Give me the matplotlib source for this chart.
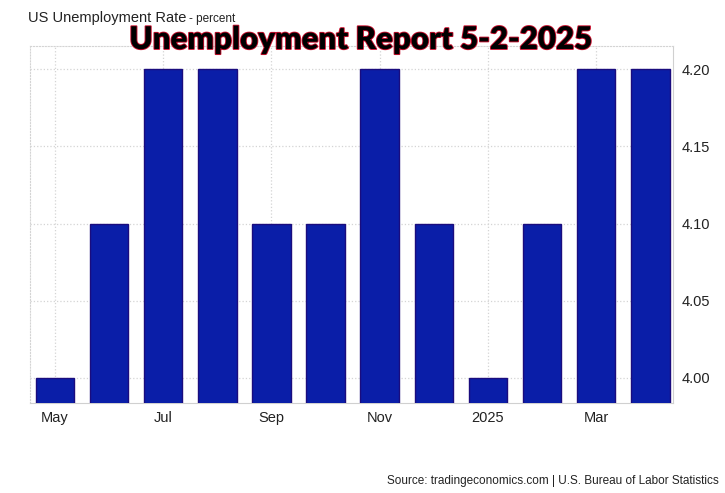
"""
US unemployment rate, monthly bars May 2024 - Apr 2025
"""
import matplotlib
matplotlib.use("Agg")
import matplotlib.pyplot as plt
import matplotlib.patheffects as pe

months = ["May", "Jun", "Jul", "Aug", "Sep", "Oct", "Nov", "Dec", "Jan", "Feb", "Mar", "Apr"]
rates = [4.0, 4.1, 4.2, 4.2, 4.1, 4.1, 4.2, 4.1, 4.0, 4.1, 4.2, 4.2]
tick_pos = [0, 2, 4, 6, 8, 10]
tick_labels = ["May", "Jul", "Sep", "Nov", "2025", "Mar"]
y_ticks = [4.00, 4.05, 4.10, 4.15, 4.20]

plt.rcParams["font.family"] = ["Liberation Sans", "DejaVu Sans"]

fig = plt.figure(figsize=(7.25, 4.93), dpi=100)
ax = fig.add_axes([0.0414, 0.1826, 0.887, 0.724])

x = range(len(months))
ax.bar(x, rates, width=0.71, bottom=0, color="#0a1ea8", edgecolor="#1a0c7e", linewidth=1.0, zorder=3)

ax.set_xlim(-0.46, 11.42)
ax.set_ylim(3.9838, 4.2149)

ax.set_xticks(tick_pos)
ax.set_xticklabels(tick_labels)
ax.set_yticks(y_ticks)
ax.set_yticklabels(["%.2f" % v for v in y_ticks])
ax.yaxis.tick_right()
ax.tick_params(axis="both", length=0, labelsize=10.5, labelcolor="#222222")
ax.tick_params(axis="y", pad=6)
ax.tick_params(axis="x", pad=6)

ax.grid(True, color="#d4d4d4", linestyle=":", linewidth=0.9, zorder=0)
for side in ["top", "left"]:
    ax.spines[side].set_color("#d4d4d4")
    ax.spines[side].set_linestyle(":")
ax.spines["bottom"].set_color("#d0d0d0")
ax.spines["right"].set_color("#d0d0d0")

fig.text(28 / 725, 1 - 18 / 493, "US Unemployment Rate", fontsize=10.5, color="#222222", va="center")
fig.text(189 / 725, 1 - 19 / 493, "- percent", fontsize=8.5, color="#222222", va="center")

fig.text(361 / 725, 1 - 40 / 493, "Unemployment Report 5-2-2025", fontsize=22.5, fontweight="heavy",
         family="Lato", color="black", ha="center", va="center",
         path_effects=[pe.withStroke(linewidth=1.3, foreground="#c8102e")])

fig.text(719 / 725, 1 - 481 / 493, "Source: tradingeconomics.com | U.S. Bureau of Labor Statistics",
         fontsize=8.5, color="#222222", ha="right", va="center")

fig.savefig("out.png", dpi=100)
